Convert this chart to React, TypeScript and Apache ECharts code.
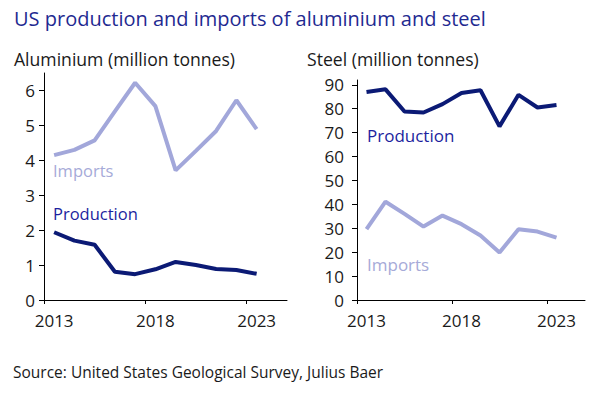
import React, { useEffect, useRef } from "react";
import * as echarts from "echarts";

const years = [2013.5, 2014.5, 2015.5, 2016.5, 2017.5, 2018.5, 2019.5, 2020.5, 2021.5, 2022.5, 2023.5];
const aluImports = [4.15, 4.3, 4.57, 5.4, 6.22, 5.55, 3.71, 4.27, 4.84, 5.72, 4.89];
const aluProduction = [1.94, 1.7, 1.58, 0.81, 0.74, 0.88, 1.09, 1.0, 0.89, 0.86, 0.75];
const steelProduction = [87.0, 88.1, 78.8, 78.4, 81.9, 86.6, 87.7, 72.6, 85.8, 80.5, 81.5];
const steelImports = [29.6, 41.1, 36.0, 30.7, 35.3, 31.7, 27.0, 19.9, 29.6, 28.6, 26.1];
const xTickYears = [2013, 2018, 2023];
const xLabelYears = [2013.5, 2018.5, 2023.5];
const aluTicks = [0, 1, 2, 3, 4, 5, 6];
const steelTicks = [0, 10, 20, 30, 40, 50, 60, 70, 80, 90];

const FONT = "'Open Sans', 'Noto Sans', sans-serif";
const PROD = "#0b1a75";
const IMP = "#a2a7da";

const pairs = (xs: number[], ys: number[]) => xs.map((x, i) => [x, ys[i]]);

export default function App() {
  const ref = useRef<HTMLDivElement>(null);
  useEffect(() => {
    if (!ref.current) return;
    const chart = echarts.init(ref.current, undefined, { renderer: "svg" });
    const xAxisBase = (gridIndex: number) => ({
      type: "value",
      gridIndex,
      min: 2013,
      max: 2025,
      splitLine: { show: false },
      axisLine: { show: true, lineStyle: { color: "#000", width: 1 } },
      axisTick: { show: true, customValues: xTickYears, length: 4, lineStyle: { color: "#000" } },
      axisLabel: {
        customValues: xLabelYears,
        formatter: (v: number) => String(Math.floor(v)),
        color: "#1a1a1a",
        fontFamily: FONT,
        fontSize: 17,
        margin: 12,
      },
    });
    const yAxisBase = (gridIndex: number, max: number, ticks: number[], margin: number) => ({
      type: "value",
      gridIndex,
      min: 0,
      max,
      splitLine: { show: false },
      axisLine: { show: true, lineStyle: { color: "#000", width: 1 } },
      axisTick: { show: true, customValues: ticks, length: 5, lineStyle: { color: "#000" } },
      axisLabel: {
        customValues: ticks,
        color: "#1a1a1a",
        fontFamily: FONT,
        fontSize: 17,
        margin,
      },
    });
    const lineSeries = (name: string, xi: number, data: number[][], color: string) => ({
      type: "line",
      name,
      xAxisIndex: xi,
      yAxisIndex: xi,
      data,
      symbol: "none",
      lineStyle: { color, width: 4 },
      itemStyle: { color },
    });
    const txt = (text: string, x: number, y: number, size: number, fill: string) => ({
      type: "text",
      x,
      y,
      style: { text, font: `${size}px ${FONT}`, fill, textAlign: "left", textVerticalAlign: "middle" },
    });
    chart.setOption({
      animation: false,
      backgroundColor: "#fff",
      grid: [
        { left: 44, top: 73, width: 243, height: 227 },
        { left: 357, top: 80, width: 228, height: 220 },
      ],
      xAxis: [xAxisBase(0), xAxisBase(1)],
      yAxis: [yAxisBase(0, 6.5, aluTicks, 9), yAxisBase(1, 92, steelTicks, 13)],
      series: [
        lineSeries("Aluminium imports", 0, pairs(years, aluImports), IMP),
        lineSeries("Aluminium production", 0, pairs(years, aluProduction), PROD),
        lineSeries("Steel production", 1, pairs(years, steelProduction), PROD),
        lineSeries("Steel imports", 1, pairs(years, steelImports), IMP),
      ],
      graphic: [
        txt("US production and imports of aluminium and steel", 14, 18, 20, "#1f2a91"),
        txt("Aluminium (million tonnes)", 14, 59, 17.6, "#1a1a1a"),
        txt("Steel (million tonnes)", 307, 59, 17.6, "#1a1a1a"),
        txt("Imports", 53, 170, 16.5, "#a6aad8"),
        txt("Production", 53, 213, 16.5, "#1c1f9e"),
        txt("Production", 367, 135, 17, "#1c1f9e"),
        txt("Imports", 367, 264, 17, "#a6aad8"),
        txt("Source: United States Geological Survey, Julius Baer", 13, 372, 15.5, "#1a1a1a"),
      ],
    });
    return () => chart.dispose();
  }, []);
  return <div ref={ref} style={{ width: 592, height: 398, position: "absolute", left: 0, top: 0 }} />;
}
